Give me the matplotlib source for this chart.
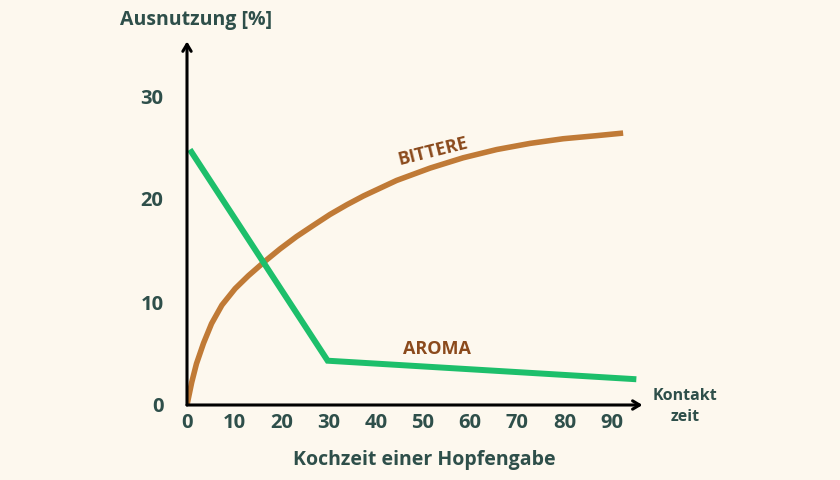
import matplotlib
matplotlib.use("Agg")
import matplotlib.pyplot as plt

# Data
bitter_x = [0, 1.0, 2.0, 3.5, 5.2, 7.4, 10.2, 13.0, 16.5, 19.7, 23.2, 26.8, 30.3, 33.9, 37.4,
            44.4, 51.5, 58.5, 65.6, 72.7, 79.7, 86.8, 92.4]
bitter_y = [0, 2.2, 4.0, 6.0, 7.9, 9.7, 11.3, 12.55, 13.95, 15.15, 16.35, 17.45, 18.5, 19.45,
            20.3, 21.8, 23.0, 24.0, 24.8, 25.4, 25.85, 26.15, 26.4]
aroma_x = [0.6, 29.8, 95.2]
aroma_y = [24.8, 4.3, 2.5]
xticks = [0, 10, 20, 30, 40, 50, 60, 70, 80, 90]
yticks = [0, 10, 20, 30]

BG = "#fdf8ee"
TXT = "#2e4f4a"
BROWN = "#c07a36"
BROWN_TXT = "#8b4a1c"
GREEN = "#1dbf6b"

plt.rcParams['font.family'] = ['Open Sans', 'DejaVu Sans']

fig = plt.figure(figsize=(8.4, 4.8), dpi=100, facecolor=BG)
W, H = 840, 480
left, right = 187, 187 + 100 * 4.72
bottom, top = 405, 405 - 36 * 10.3
ax = fig.add_axes([left / W, (H - bottom) / H, (right - left) / W, (bottom - top) / H])
ax.set_facecolor(BG)
ax.set_xlim(0, 100)
ax.set_ylim(0, 36)
for s in ax.spines.values():
    s.set_visible(False)

ax.plot(bitter_x, bitter_y, color=BROWN, lw=4, solid_capstyle='butt', solid_joinstyle='round', zorder=3)
ax.plot(aroma_x, aroma_y, color=GREEN, lw=4.3, solid_capstyle='butt', solid_joinstyle='miter', zorder=3)

# axes arrows
arrow = dict(arrowstyle='->,head_length=0.5,head_width=0.3', color='black', lw=2.2, shrinkA=0, shrinkB=0)
ax.annotate('', xy=(96.5, 0), xytext=(0, 0), arrowprops=arrow, annotation_clip=False, zorder=4)
ax.annotate('', xy=(0, 35.3), xytext=(0, 0), arrowprops=arrow, annotation_clip=False, zorder=4)

ax.set_xticks(xticks)
ax.set_yticks(yticks)
ax.set_xticklabels([str(t) for t in xticks])
ax.set_yticklabels([str(t) for t in yticks])
ax.tick_params(axis='both', length=0, labelsize=14.5, labelcolor=TXT)
ax.tick_params(axis='x', pad=6)
ax.tick_params(axis='y', pad=17)
for lab in ax.get_xticklabels() + ax.get_yticklabels():
    lab.set_fontweight('bold')

fig.text(196 / W, 1 - 20 / H, "Ausnutzung [%]", ha='center', va='center', fontsize=14,
         fontweight='bold', color=TXT)
fig.text(424 / W, 1 - 460 / H, "Kochzeit einer Hopfengabe", ha='center', va='center', fontsize=14,
         fontweight='bold', color=TXT)
fig.text(685 / W, 1 - 396 / H, "Kontakt", ha='center', va='center', fontsize=11.5,
         fontweight='bold', color=TXT)
fig.text(685 / W, 1 - 417 / H, "zeit", ha='center', va='center', fontsize=11.5,
         fontweight='bold', color=TXT)

ax.text(52.1, 24.6, "BITTERE", rotation=14, ha='center', va='center', fontsize=13,
        fontweight='bold', color=BROWN_TXT)
ax.text(52.9, 5.4, "AROMA", ha='center', va='center', fontsize=13,
        fontweight='bold', color=BROWN_TXT)

fig.savefig("out.png", dpi=100, facecolor=BG)
